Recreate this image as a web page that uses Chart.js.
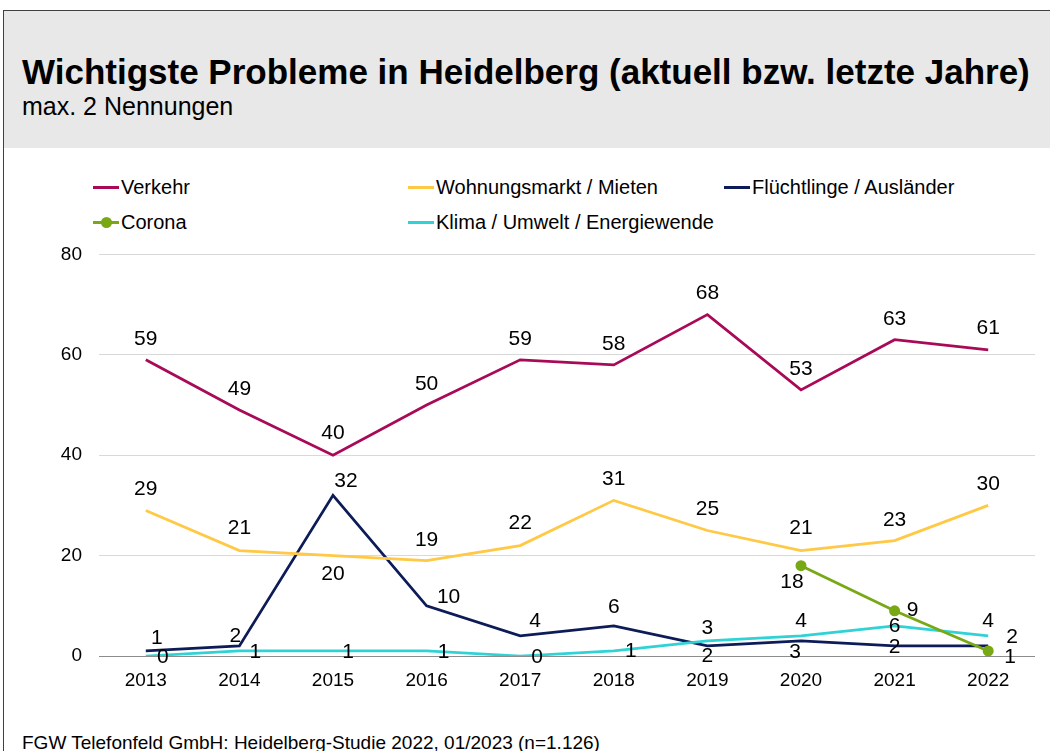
<!DOCTYPE html>
<html>
<head>
<meta charset="utf-8">
<script src="https://cdn.jsdelivr.net/npm/chart.js@4"></script>
<style>
  body { margin: 0; background: #fff; font-family: "Liberation Sans", Arial, sans-serif; color: #000; }
  #page { position: relative; width: 1050px; height: 751px; overflow: hidden; }
  #frameLeft { position: absolute; left: 3px; top: 10px; bottom: 0; width: 1px; background: #404040; }
  #head { position: absolute; left: 4px; top: 10px; width: 1046px; height: 137px; background: #e8e8e8; border-top: 1px solid #404040; }
  #title { position: absolute; left: 22px; top: 54px; font-size: 35px; line-height: 35px; font-weight: bold; white-space: nowrap; }
  #subtitle { position: absolute; left: 22px; top: 94px; font-size: 25px; line-height: 25px; white-space: nowrap; }
  #footer { position: absolute; left: 22px; top: 733px; font-size: 19px; line-height: 19px; white-space: nowrap; }
  .leg { position: absolute; font-size: 20px; line-height: 20px; white-space: nowrap; display: flex; align-items: center; }
  .leg .ln { display: inline-block; width: 26px; height: 3px; margin-right: 2px; position: relative; }
  .leg .dot { position: absolute; left: 8px; top: -4px; width: 11px; height: 11px; border-radius: 50%; }
  #chart { position: absolute; left: 0; top: 226px; }
</style>
</head>
<body>
<div id="page">
  <div id="head"></div>
  <div id="frameLeft"></div>
  <div id="title">Wichtigste Probleme in Heidelberg (aktuell bzw. letzte Jahre)</div>
  <div id="subtitle">max. 2 Nennungen</div>
  <div id="legend"></div>
  <canvas id="chart" width="1050" height="486"></canvas>
  <div id="footer">FGW Telefonfeld GmbH: Heidelberg-Studie 2022, 01/2023 (n=1.126)</div>
</div>
<script>
var YEARS = ['2013', '2014', '2015', '2016', '2017', '2018', '2019', '2020', '2021', '2022'];
var VERKEHR = [59, 49, 40, 50, 59, 58, 68, 53, 63, 61];
var WOHNUNG = [29, 21, 20, 19, 22, 31, 25, 21, 23, 30];
var FLUECHTLINGE = [1, 2, 32, 10, 4, 6, 2, 3, 2, 2];
var CORONA = [null, null, null, null, null, null, null, 18, 9, 1];
var KLIMA = [0, 1, 1, 1, 0, 1, 3, 4, 6, 4];
var Y_TICKS = [0, 20, 40, 60, 80];

// where each value label sits relative to its point, [dx, dy]
var VERKEHR_LBL = [[0,-21],[0,-21],[0,-22],[0,-21],[0,-21],[0,-21],[0,-21],[0,-21],[0,-21],[0,-22]];
var WOHNUNG_LBL = [[0,-21],[0,-22],[0,19],[0,-20],[0,-22],[0,-21],[0,-21],[0,-22],[0,-20],[0,-21]];
var FLUECHT_LBL = [[11,-13],[-4,-10],[13,-14],[22,-9],[15,-15],[0,-19],[0,10],[-6,11],[0,1],[24,-9]];
var CORONA_LBL = [null,null,null,null,null,null,null,[-9,17],[18,-1],[22,6]];
var KLIMA_LBL = [[17,1],[16,1],[15,1],[17,1],[17,1],[17,0],[0,-13],[0,-15],[0,0],[0,-15]];

var COLORS = {
    verkehr: '#a80a58',
    wohnung: '#ffc845',
    fluecht: '#0d1c58',
    corona: '#78a814',
    klima: '#2fd3d6'
};

var LEGEND = [
    {text: 'Verkehr', color: COLORS.verkehr, x: 93, y: 177},
    {text: 'Wohnungsmarkt / Mieten', color: COLORS.wohnung, x: 408, y: 177},
    {text: 'Flüchtlinge / Ausländer', color: COLORS.fluecht, x: 724, y: 177},
    {text: 'Corona', color: COLORS.corona, x: 93, y: 212, dot: true},
    {text: 'Klima / Umwelt / Energiewende', color: COLORS.klima, x: 408, y: 212}
];

$ = function(id){ return document.getElementById(id); };

function buildLegend() {
    var html = '';
    LEGEND.forEach(function(l){
        html += '<div class="leg" style="left:' + l.x + 'px;top:' + l.y + 'px">' +
            '<span class="ln" style="background:' + l.color + '">' +
            (l.dot ? '<span class="dot" style="background:' + l.color + '"></span>' : '') +
            '</span>' + l.text + '</div>';
    });
    $('legend').innerHTML = html;
}

var valueLabels = {
    id: 'valueLabels',
    afterDatasetsDraw: function(chart) {
        var ctx = chart.ctx;
        ctx.save();
        ctx.font = '21px "Liberation Sans", Arial, sans-serif';
        ctx.fillStyle = '#000';
        ctx.textAlign = 'center';
        ctx.textBaseline = 'middle';
        chart.data.datasets.forEach(function(ds, di){
            var meta = chart.getDatasetMeta(di);
            meta.data.forEach(function(pt, i){
                var v = ds.data[i];
                var off = ds.labelPos[i];
                if (v === null || !off) return;
                ctx.fillText(String(v), pt.x + off[0], pt.y + off[1]);
            });
        });
        ctx.restore();
    }
};

function lineSet(label, data, color, pos, extra) {
    var ds = {
        label: label,
        data: data,
        borderColor: color,
        backgroundColor: color,
        borderWidth: 2.75,
        pointRadius: 0,
        tension: 0,
        labelPos: pos
    };
    for (var k in extra) ds[k] = extra[k];
    return ds;
}

buildLegend();

new Chart($('chart'), {
    type: 'line',
    data: {
        labels: YEARS,
        datasets: [
            lineSet('Verkehr', VERKEHR, COLORS.verkehr, VERKEHR_LBL),
            lineSet('Wohnungsmarkt / Mieten', WOHNUNG, COLORS.wohnung, WOHNUNG_LBL),
            lineSet('Corona', CORONA, COLORS.corona, CORONA_LBL, {pointRadius: 5.5, pointBorderWidth: 0}),
            lineSet('Klima / Umwelt / Energiewende', KLIMA, COLORS.klima, KLIMA_LBL),
            lineSet('Flüchtlinge / Ausländer', FLUECHTLINGE, COLORS.fluecht, FLUECHT_LBL)
        ]
    },
    options: {
        responsive: false,
        animation: false,
        layout: {padding: {left: 0, right: 15, top: 0, bottom: 16}},
        plugins: {legend: {display: false}, tooltip: {enabled: false}},
        scales: {
            x: {
                offset: true,
                grid: {display: false},
                border: {display: false},
                ticks: {padding: 5, color: '#000', font: {family: '"Liberation Sans", Arial, sans-serif', size: 19}},
                afterFit: function(s){ s.height = 40; }
            },
            y: {
                min: 0,
                max: 80,
                afterBuildTicks: function(s){ s.ticks = Y_TICKS.map(function(v){ return {value: v}; }); },
                grid: {
                    drawTicks: false,
                    color: function(c){ return c.tick && c.tick.value === 0 ? '#8c8c8c' : '#d9d9d9'; },
                    lineWidth: 1
                },
                border: {display: false},
                ticks: {padding: 17, color: '#000', font: {family: '"Liberation Sans", Arial, sans-serif', size: 19}},
                afterFit: function(s){ s.width = 99; }
            }
        }
    },
    plugins: [valueLabels]
});
</script>
</body>
</html>
